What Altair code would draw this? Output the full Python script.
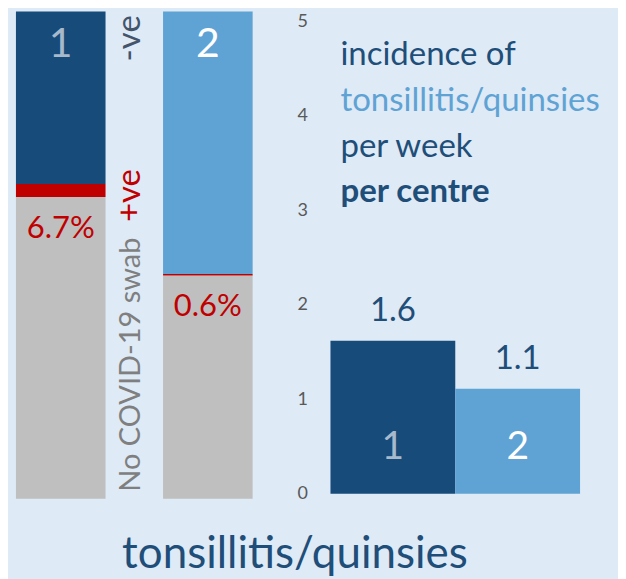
import altair as alt
import pandas as pd

# ---------------- data ----------------
groups = ["1", "2"]
neg_pct = [35.4, 53.9]        # swabbed, COVID-19 negative (% of consultations)
pos_pct = [2.7, 0.3]          # swabbed, COVID-19 positive
noswab_pct = [61.9, 45.8]     # no COVID-19 swab
pos_labels = ["6.7%", "0.6%"]
incidence = [1.62, 1.11]      # incidence per week per centre
incidence_labels = ["1.6", "1.1"]
y_ticks = [0, 1, 2, 3, 4, 5]
legend_lines = ["incidence of", "tonsillitis/quinsies", "per week", "per centre"]
title_text = "tonsillitis/quinsies"

# ---------------- style ----------------
DARK = "#174b7a"
LIGHT = "#5fa2d4"
RED = "#c00000"
GREY = "#bfbfbf"
BG = "#deeaf6"
TXT_DARK = "#1f4e79"
FONT = "Lato"
group_fill = [DARK, LIGHT]
group_digit = ["#a8b9cc", "#ffffff"]
legend_colors = [TXT_DARK, LIGHT, TXT_DARK, TXT_DARK]
legend_weights = ["normal", "normal", "normal", "bold"]

# ---------------- left panel: stacked 100% bars ----------------
rows = []
for i, g in enumerate(groups):
    rows.append(dict(group=g, seg="No COVID-19 swab", order=0, val=noswab_pct[i], fill=GREY))
    rows.append(dict(group=g, seg="+ve", order=1, val=pos_pct[i], fill=RED))
    rows.append(dict(group=g, seg="-ve", order=2, val=neg_pct[i], fill=group_fill[i]))
stack_df = pd.DataFrame(rows)

xl = alt.X("group:N", scale=alt.Scale(paddingInner=0.391, paddingOuter=0.054), axis=None)
yl_scale = alt.Scale(domain=[0, 100], nice=False)

left_bars = alt.Chart(stack_df).mark_bar().encode(
    x=xl,
    y=alt.Y("val:Q", stack="zero", scale=yl_scale, axis=None),
    color=alt.Color("fill:N", scale=None),
    order=alt.Order("order:Q"),
)

top_df = pd.DataFrame({"group": groups, "top": [100, 100], "label": groups, "c": group_digit})
left_digits = alt.Chart(top_df).mark_text(
    font=FONT, fontSize=41, baseline="alphabetic", dy=46
).encode(x=xl, y=alt.Y("top:Q", scale=yl_scale), text="label:N",
         color=alt.Color("c:N", scale=None))

pct_df = pd.DataFrame({"group": groups, "base": noswab_pct, "label": pos_labels})
pct_text = alt.Chart(pct_df).mark_text(
    font=FONT, fontSize=31, baseline="alphabetic", dy=41, color=RED
).encode(x=xl, y=alt.Y("base:Q", scale=yl_scale), text="label:N")

def side_label(txt, color, y, size):
    return alt.Chart(pd.DataFrame({"t": [txt]})).mark_text(
        font=FONT, fontSize=size, angle=270, align="left", baseline="alphabetic", color=color
    ).encode(x=alt.value(132), y=alt.value(y), text="t:N")

left = alt.layer(
    left_bars, left_digits, pct_text,
    side_label("-ve", "#44546a", 50, 33),
    side_label("+ve", RED, 211, 33),
    side_label("No COVID-19 swab", "#7f7f7f", 481, 29),
).properties(width=253, height=488)

# ---------------- right panel: incidence bars ----------------
inc_df = pd.DataFrame({"group": groups, "inc": incidence, "label": incidence_labels,
                       "fill": group_fill, "c": group_digit, "zero": [0, 0]})
xr = alt.X("group:N", scale=alt.Scale(paddingInner=0, paddingOuter=0.08), axis=None)
yr_scale = alt.Scale(domain=[0, 5.106], nice=False)

right_bars = alt.Chart(inc_df).mark_bar().encode(
    x=xr,
    y=alt.Y("inc:Q", scale=yr_scale,
            axis=alt.Axis(values=y_ticks, format="d", title=None, grid=False, domain=False,
                          ticks=False, labelFontSize=18, labelColor="#595959", labelFont=FONT,
                          labelPadding=13)),
    color=alt.Color("fill:N", scale=None),
)
value_text = alt.Chart(inc_df).mark_text(
    font=FONT, fontSize=33, baseline="alphabetic", dy=-20, color=TXT_DARK
).encode(x=xr, y=alt.Y("inc:Q", scale=yr_scale), text="label:N")
right_digits = alt.Chart(inc_df).mark_text(
    font=FONT, fontSize=39, baseline="alphabetic", dy=-35
).encode(x=xr, y=alt.Y("zero:Q", scale=yr_scale), text="group:N",
         color=alt.Color("c:N", scale=None))

legend_layers = []
for i, line in enumerate(legend_lines):
    legend_layers.append(
        alt.Chart(pd.DataFrame({"t": [line]})).mark_text(
            font=FONT, fontSize=33, align="left", baseline="alphabetic",
            color=legend_colors[i], fontWeight=legend_weights[i]
        ).encode(x=alt.value(20), y=alt.value(54 + i * 45.7), text="t:N")
    )

right = alt.layer(right_bars, value_text, right_digits, *legend_layers
                  ).properties(width=270, height=483)

chart = alt.hconcat(left, right, spacing=60, bounds="flush").properties(
    padding={"left": 0, "top": 3, "right": 18, "bottom": 2},
    title=alt.TitleParams(title_text, orient="bottom", anchor="middle", font=FONT,
                          fontSize=44, fontWeight="normal", color=TXT_DARK, offset=30, dx=-9),
).configure(background=BG).configure_view(strokeWidth=0)

chart.save("out.html", embed_options={"renderer": "svg", "actions": False})
